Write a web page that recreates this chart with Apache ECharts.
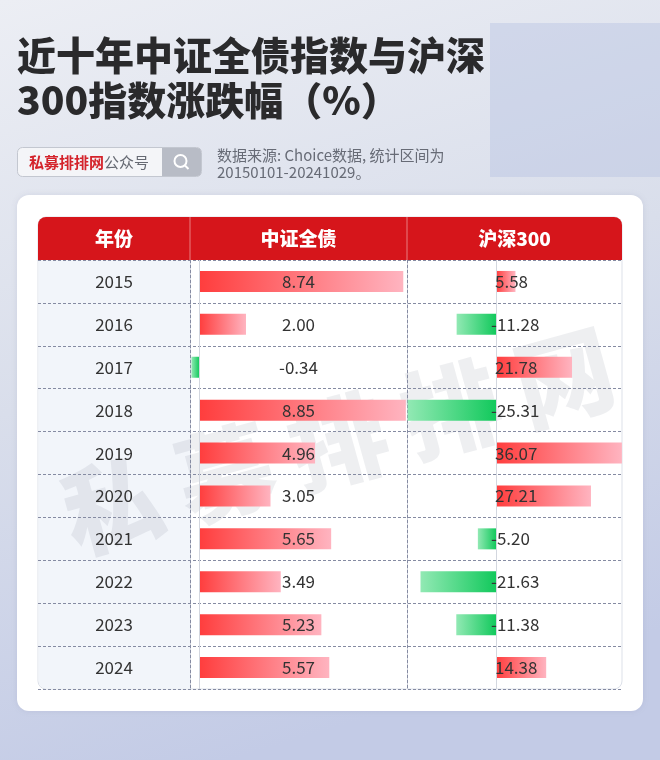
<!DOCTYPE html>
<html>
<head>
<meta charset="utf-8">
<script src="https://cdn.jsdelivr.net/npm/echarts@6/dist/echarts.min.js"></script>
<style>html,body{margin:0;padding:0;background:#e4e8f1;}#c{width:660px;height:760px;}</style>
</head>
<body>
<div id="c"></div>
<script>
var years = ['2015','2016','2017','2018','2019','2020','2021','2022','2023','2024'];
var bondValues = [8.74, 2.00, -0.34, 8.85, 4.96, 3.05, 5.65, 3.49, 5.23, 5.57];
var hs300Values = [5.58, -11.28, 21.78, -25.31, 36.07, 27.21, -5.20, -21.63, -11.38, 14.38];
var headers = ['年份', '中证全债', '沪深300'];

var FONT = '"Noto Sans CJK SC","Noto Sans",sans-serif';
var chart = echarts.init(document.getElementById('c'), null, {renderer: 'canvas'});

function barColor(v) {
  if (v >= 0) {
    return new echarts.graphic.LinearGradient(0, 0, 1, 0, [
      {offset: 0, color: '#ff3d3d'}, {offset: 1, color: '#ffb4c0'}]);
  }
  return new echarts.graphic.LinearGradient(1, 0, 0, 0, [
    {offset: 0, color: '#12c95c'}, {offset: 1, color: '#92e9b4'}]);
}
function barData(arr) {
  return arr.map(function (v) { return {value: v, itemStyle: {color: barColor(v)}}; });
}
function labelData(arr) {
  return arr.map(function (v, i) { return [v, i]; });
}

var dashColor = '#858ba2';
var wm = '私募排排网'.split('');
var wmGraphics = wm.map(function (ch, i) {
  return {type: 'text', x: 112 + i * 113, y: 505 - i * 32, rotation: 0.27, z: -1,
    style: {text: ch, font: '900 98px ' + FONT, fill: 'rgba(60,70,90,0.085)',
      textAlign: 'center', textVerticalAlign: 'middle', align: 'center', verticalAlign: 'middle'}};
});

var option = {
  animation: false,
  grid: [
    {left: 190, top: 260, width: 217, height: 429},
    {left: 407, top: 260, width: 215, height: 429},
    {left: 38, top: 260, width: 584, height: 429}
  ],
  xAxis: [
    {gridIndex: 0, type: 'value', min: -0.4, max: 8.9, show: false},
    {gridIndex: 1, type: 'value', min: -25.5, max: 36.1, show: false},
    {gridIndex: 2, type: 'value', show: false}
  ],
  yAxis: [
    {gridIndex: 0, type: 'category', data: years, inverse: true,
      axisLine: {show: true, onZero: false, lineStyle: {color: dashColor, type: [3, 2], width: 1}},
      axisTick: {show: false}, splitLine: {show: false},
      axisLabel: {show: true, align: 'center', margin: 76, fontSize: 17, color: '#333', fontFamily: FONT}},
    {gridIndex: 1, type: 'category', data: years, inverse: true,
      axisLine: {show: true, onZero: false, lineStyle: {color: dashColor, type: [3, 2], width: 1}},
      axisTick: {show: false}, splitLine: {show: false}, axisLabel: {show: false}},
    {gridIndex: 2, type: 'category', data: years, inverse: true,
      axisLine: {show: false}, axisTick: {show: false}, axisLabel: {show: false},
      splitLine: {show: true, lineStyle: {color: dashColor, type: [3, 2], width: 1}}}
  ],
  series: [
    {type: 'bar', xAxisIndex: 0, yAxisIndex: 0, data: barData(bondValues), barWidth: 21,
      markLine: {silent: true, symbol: 'none', label: {show: false},
        lineStyle: {color: '#d3d7df', type: 'solid', width: 1}, data: [{xAxis: 0}]}},
    {type: 'bar', xAxisIndex: 1, yAxisIndex: 1, data: barData(hs300Values), barWidth: 21,
      markLine: {silent: true, symbol: 'none', label: {show: false},
        lineStyle: {color: '#d3d7df', type: 'solid', width: 1}, data: [{xAxis: 0}]}},
    {type: 'custom', xAxisIndex: 0, yAxisIndex: 0, z: 5, data: labelData(bondValues),
      encode: {x: 0, y: 1},
      renderItem: function (params, api) {
        var v = api.value(0), idx = api.value(1);
        var pt = api.coord([0, idx]);
        var cs = params.coordSys;
        return {type: 'text', x: cs.x + cs.width / 2, y: pt[1],
          style: {text: v.toFixed(2), fill: '#333', font: '17px ' + FONT,
            textAlign: 'center', textVerticalAlign: 'middle', align: 'center', verticalAlign: 'middle'}};
      }},
    {type: 'custom', xAxisIndex: 1, yAxisIndex: 1, z: 5, data: labelData(hs300Values),
      encode: {x: 0, y: 1},
      renderItem: function (params, api) {
        var v = api.value(0), idx = api.value(1);
        var pt = api.coord([0, idx]);
        return {type: 'text', x: pt[0] + (v < 0 ? -5 : -1), y: pt[1],
          style: {text: v.toFixed(2), fill: '#333', font: '17px ' + FONT,
            textAlign: 'left', textVerticalAlign: 'middle', align: 'left', verticalAlign: 'middle'}};
      }}
  ],
  graphic: [
    {type: 'rect', z: -10, shape: {x: 0, y: 0, width: 660, height: 760},
      style: {fill: new echarts.graphic.LinearGradient(0, 0, 0.35, 1, [
        {offset: 0, color: '#eceef4'}, {offset: 0.5, color: '#d9deeb'}, {offset: 1, color: '#c3cbe6'}])}},
    {type: 'rect', z: -9, shape: {x: 490, y: 23, width: 170, height: 154},
      style: {fill: 'rgba(185,196,226,0.45)'}},
    {type: 'rect', z: -8, shape: {x: 17, y: 195, width: 626, height: 516, r: 12},
      style: {fill: '#ffffff', shadowBlur: 6, shadowColor: 'rgba(100,110,140,0.15)'}},
    {type: 'rect', z: -7, shape: {x: 38, y: 217, width: 584, height: 472, r: 8},
      style: {fill: '#ffffff', stroke: '#dde1e9', lineWidth: 1}},
    {type: 'rect', z: -6, shape: {x: 38.5, y: 260, width: 151.5, height: 428.5, r: [0, 0, 0, 8]},
      style: {fill: '#f2f5fa'}},
    {type: 'rect', z: 10, shape: {x: 38, y: 217, width: 584, height: 43, r: [8, 8, 0, 0]},
      style: {fill: '#d6151b'}},
    {type: 'line', z: 11, shape: {x1: 190, y1: 217, x2: 190, y2: 260}, style: {stroke: 'rgba(255,255,255,0.45)', lineWidth: 1}},
    {type: 'line', z: 11, shape: {x1: 407, y1: 217, x2: 407, y2: 260}, style: {stroke: 'rgba(255,255,255,0.45)', lineWidth: 1}},
    {type: 'text', z: 11, x: 114, y: 239, style: {text: headers[0], fill: '#fff', font: '900 19px ' + FONT, textAlign: 'center', textVerticalAlign: 'middle', align: 'center', verticalAlign: 'middle'}},
    {type: 'text', z: 11, x: 298.5, y: 239, style: {text: headers[1], fill: '#fff', font: '900 19px ' + FONT, textAlign: 'center', textVerticalAlign: 'middle', align: 'center', verticalAlign: 'middle'}},
    {type: 'text', z: 11, x: 514.5, y: 239, style: {text: headers[2], fill: '#fff', font: '900 19px ' + FONT, textAlign: 'center', textVerticalAlign: 'middle', align: 'center', verticalAlign: 'middle'}},
    {type: 'text', z: 11, x: 17, y: 55, style: {text: '近十年中证全债指数与沪深', fill: '#2a2a2c', font: '900 39px ' + FONT, textVerticalAlign: 'middle', verticalAlign: 'middle'}},
    {type: 'text', z: 11, x: 17, y: 100, style: {text: '300指数涨跌幅（%）', fill: '#2a2a2c', font: '900 39px ' + FONT, textVerticalAlign: 'middle', verticalAlign: 'middle'}},
    {type: 'rect', z: 11, shape: {x: 17.5, y: 147.5, width: 184, height: 29, r: 5}, style: {fill: '#f4f5f8', stroke: '#c3c7d0', lineWidth: 1}},
    {type: 'rect', z: 12, shape: {x: 162, y: 148, width: 39, height: 28, r: [0, 4, 4, 0]}, style: {fill: '#b8bcc6'}},
    {type: 'circle', z: 13, shape: {cx: 180.5, cy: 161, r: 6}, style: {fill: 'none', stroke: '#fff', lineWidth: 2}},
    {type: 'line', z: 13, shape: {x1: 185, y1: 165.5, x2: 188.5, y2: 169}, style: {stroke: '#fff', lineWidth: 2}},
    {type: 'text', z: 13, x: 29, y: 162, style: {text: '{a|私募排排网}{b|公众号}', textVerticalAlign: 'middle', verticalAlign: 'middle',
      rich: {a: {fill: '#d4232b', color: '#d4232b', fontSize: 15, fontWeight: 'bold', fontFamily: FONT}, b: {fill: '#666a73', color: '#666a73', fontSize: 15, fontFamily: FONT}}}},
    {type: 'text', z: 11, x: 217, y: 155, style: {text: '数据来源: Choice数据, 统计区间为', fill: '#676b76', font: '15px ' + FONT, textVerticalAlign: 'middle', verticalAlign: 'middle'}},
    {type: 'text', z: 11, x: 217, y: 172, style: {text: '20150101-20241029。', fill: '#676b76', font: '15px ' + FONT, textVerticalAlign: 'middle', verticalAlign: 'middle'}}
  ].concat(wmGraphics)
};
chart.setOption(option);
</script>
</body>
</html>
